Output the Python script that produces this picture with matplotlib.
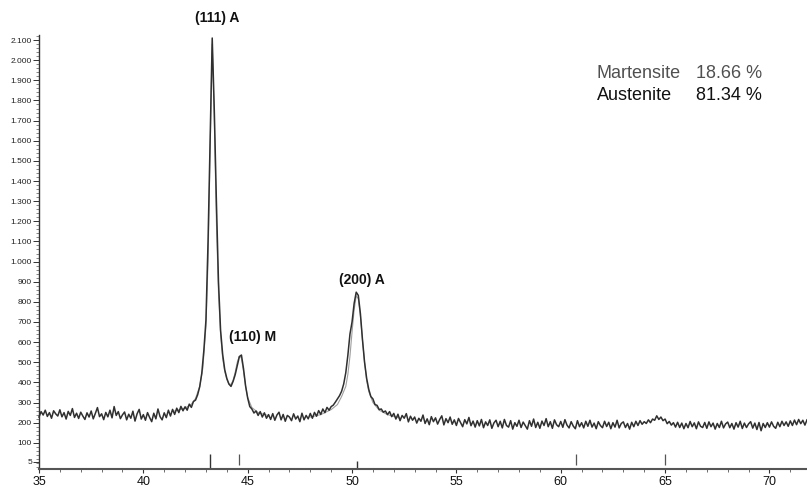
import numpy as np
import matplotlib
matplotlib.use('Agg')
import matplotlib.pyplot as plt
from matplotlib.ticker import MultipleLocator

plt.rcParams['font.family'] = ['Liberation Sans', 'DejaVu Sans']

# measured XRD scan, 2-theta from 35.0 in 0.1 deg steps
counts = [
    228, 255, 238, 262, 231, 250, 222, 259, 244, 233,   # 35
    264, 229, 250, 218, 256, 236, 270, 226, 247, 221,   # 36
    252, 233, 216, 249, 228, 258, 219, 246, 275, 230,   # 37
    244, 215, 251, 229, 262, 224, 280, 236, 255, 220,   # 38
    239, 253, 214, 242, 222, 257, 208, 244, 266, 218,   # 39
    240, 212, 250, 226, 205, 247, 219, 268, 230, 214,   # 40
    249, 225, 262, 233, 266, 241, 272, 250, 281, 259,   # 41
    279, 262, 292, 276, 305, 312, 338, 378, 445, 560,   # 42
    710, 1100, 1600, 2110, 1750, 1300, 900, 660, 540, 463,  # 43
    420, 392, 380, 405, 438, 482, 528, 536, 468, 382,   # 44
    322, 280, 268, 248, 258, 236, 255, 228, 249, 222,   # 45
    240, 216, 245, 212, 238, 252, 214, 241, 207, 236,   # 46
    228, 210, 244, 218, 233, 205, 247, 214, 236, 219,   # 47
    246, 222, 251, 232, 260, 241, 268, 250, 276, 262,   # 48
    280, 287, 302, 318, 334, 356, 392, 448, 535, 640,   # 49
    700, 792, 848, 832, 742, 612, 500, 420, 366, 330,   # 50
    318, 290, 286, 265, 268, 252, 258, 240, 255, 230,   # 51
    246, 218, 242, 210, 236, 222, 245, 204, 232, 212,   # 52
    228, 198, 222, 207, 238, 196, 219, 190, 230, 205,   # 53
    224, 193, 216, 234, 189, 220, 200, 228, 192, 214,   # 54
    186, 221, 200, 180, 215, 194, 226, 185, 208, 178,   # 55
    210, 184, 216, 175, 204, 186, 214, 172, 199, 212,   # 56
    180, 207, 174, 216, 186, 178, 210, 168, 200, 182,   # 57
    212, 176, 203, 186, 168, 210, 182, 218, 176, 202,   # 58
    172, 208, 186, 220, 180, 205, 172, 214, 190, 180,   # 59
    206, 177, 215, 188, 174, 205, 183, 170, 210, 180,   # 60
    200, 174, 207, 182, 212, 178, 198, 170, 205, 186,   # 61
    175, 207, 181, 202, 170, 200, 178, 212, 174, 196,   # 62
    204, 176, 196, 168, 202, 180, 207, 186, 210, 192,   # 63
    205, 196, 214, 200, 218, 212, 234, 216, 228, 210,   # 64
    218, 195, 206, 188, 200, 178, 202, 176, 198, 170,   # 65
    196, 175, 206, 180, 199, 170, 204, 182, 176, 201,   # 66
    172, 204, 180, 198, 168, 196, 176, 207, 174, 194,   # 67
    203, 175, 196, 168, 200, 178, 207, 171, 198, 176,   # 68
    194, 205, 173, 198, 166, 201, 160, 196, 176, 200,   # 69
    178, 204, 182, 172, 202, 180, 207, 186, 204, 182,   # 70
    209, 186, 213, 190, 216, 195, 212, 188, 214,        # 71
]
two_theta = np.round(35.0 + 0.1 * np.arange(len(counts)), 1)

# fitted profile (lighter line) around the peaks
fit_theta_1 = [41.5, 42.0, 42.3, 42.5, 42.7, 42.85, 43.0, 43.1, 43.2, 43.3, 43.4, 43.5, 43.6,
               43.7, 43.8, 43.9, 44.0, 44.1, 44.2, 44.3, 44.4, 44.5, 44.6, 44.7, 44.8, 44.9,
               45.0, 45.2, 45.5, 46.0]
fit_counts_1 = [258, 272, 292, 320, 380, 470, 680, 1000, 1550, 2080, 1700, 1200, 850,
                640, 520, 455, 415, 392, 390, 410, 450, 500, 530, 520, 455, 380,
                325, 275, 250, 235]
fit_theta_2 = [48.0, 48.5, 49.0, 49.3, 49.5, 49.7, 49.8, 49.9, 50.0, 50.1, 50.2, 50.3, 50.4,
               50.5, 50.6, 50.7, 50.8, 51.0, 51.3, 51.7, 52.3]
fit_counts_2 = [228, 240, 265, 290, 330, 380, 440, 530, 650, 760, 830, 815, 730,
                610, 500, 410, 355, 300, 262, 240, 222]

# reference line positions
austenite_pos = [43.2, 50.25]
austenite_top = [45, 8]
martensite_pos = [44.6, 60.75, 65.0]

peak_labels = ['(111) A', '(110) M', '(200) A']
peak_label_x = [43.55, 45.25, 50.45]
peak_label_y = [2210, 625, 908]

y_ticks = [5, 100, 200, 300, 400, 500, 600, 700, 800, 900, 1000, 1100, 1200, 1300,
           1400, 1500, 1600, 1700, 1800, 1900, 2000, 2100]
y_labels = ['5', '100', '200', '300', '400', '500', '600', '700', '800', '900', '1.000',
            '1.100', '1.200', '1.300', '1.400', '1.500', '1.600', '1.700', '1.800',
            '1.900', '2.000', '2.100']
x_ticks = [35, 40, 45, 50, 55, 60, 65, 70]

fig = plt.figure(figsize=(8.07, 4.91), dpi=100)
ax = fig.add_axes([39 / 807, 22 / 491, 1 - 39 / 807, 434 / 491])

ax.plot(fit_theta_1, fit_counts_1, color='#a0a0a0', lw=0.8, zorder=2)
ax.plot(fit_theta_2, fit_counts_2, color='#a0a0a0', lw=0.8, zorder=2)
ax.plot(two_theta, counts, color='#303030', lw=1.1, zorder=3, clip_on=False)

ax.vlines(austenite_pos, -30, austenite_top, color='#333333', lw=1.0)
ax.vlines(martensite_pos, -8, 42, color='#555555', lw=0.9)

for lab, lx, ly in zip(peak_labels, peak_label_x, peak_label_y):
    ax.text(lx, ly, lab, ha='center', va='center', fontsize=10, fontweight='bold',
            color='#111111', clip_on=False)

fig.text(597 / 807, 1 - 73 / 491, 'Martensite', fontsize=13, color='#505050', va='center')
fig.text(762 / 807, 1 - 73 / 491, '18.66 %', fontsize=13, color='#505050', va='center',
         ha='right')
fig.text(597 / 807, 1 - 96 / 491, 'Austenite', fontsize=13, color='#111111', va='center')
fig.text(762 / 807, 1 - 96 / 491, '81.34 %', fontsize=13, color='#111111', va='center',
         ha='right')

ax.set_xlim(35, 71.8)
ax.set_ylim(-30, 2125)
ax.set_xticks(x_ticks)
ax.set_xticklabels([str(t) for t in x_ticks], fontsize=9)
ax.xaxis.set_minor_locator(MultipleLocator(1))
ax.set_yticks(y_ticks)
ax.set_yticklabels(y_labels, fontsize=6)
ax.yaxis.set_minor_locator(MultipleLocator(20))
ax.tick_params(axis='x', which='major', direction='out', length=3, width=0.8, pad=2,
               colors='#333333', labelcolor='#111111')
ax.tick_params(axis='x', which='minor', direction='out', length=2, width=0.6, colors='#555555')
ax.tick_params(axis='y', which='major', direction='out', length=4, width=0.7, pad=1,
               colors='#333333', labelcolor='#222222')
ax.tick_params(axis='y', which='minor', direction='out', length=2, width=0.5, colors='#555555')

for side in ['top', 'right']:
    ax.spines[side].set_visible(False)
ax.spines['left'].set_linewidth(1.0)
ax.spines['left'].set_color('#333333')
ax.spines['bottom'].set_linewidth(1.5)
ax.spines['bottom'].set_color('#555555')

fig.savefig('out.png', dpi=100)
